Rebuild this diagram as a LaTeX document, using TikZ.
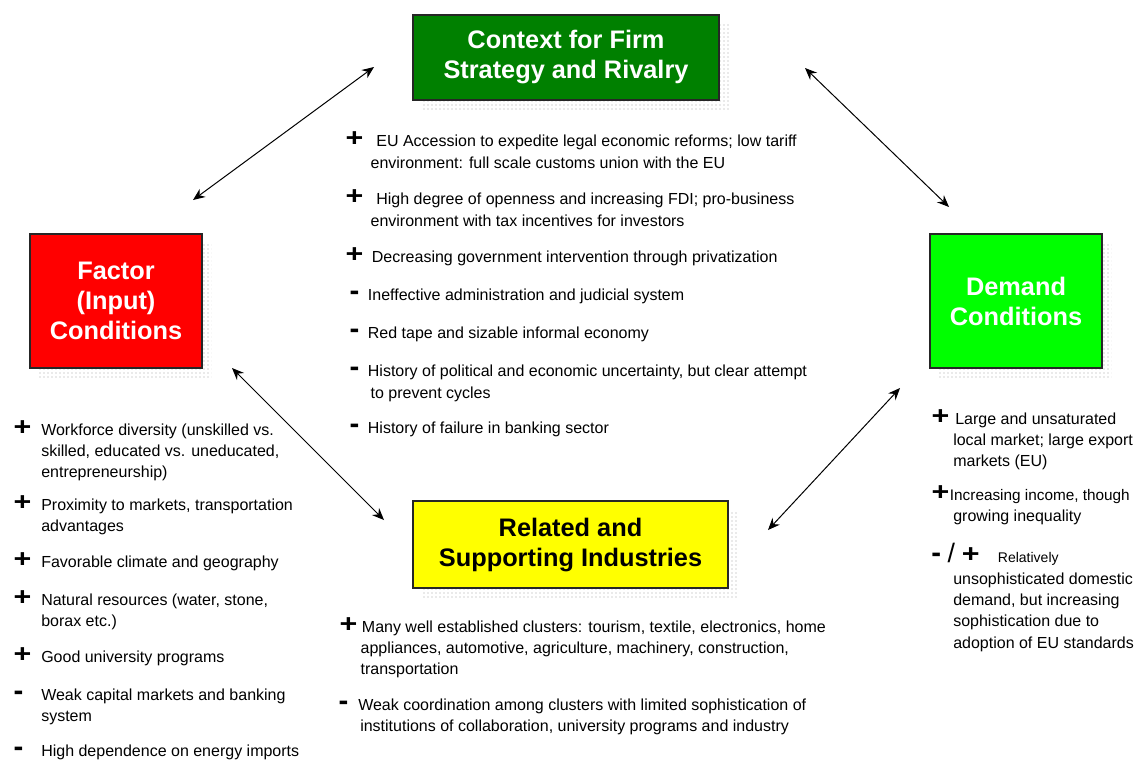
\documentclass[tikz,border=0pt]{standalone}
\usepackage{graphicx}
\usepackage{fontspec}
\setmainfont{Liberation Sans}
\usetikzlibrary{arrows.meta,patterns,backgrounds}

\definecolor{stratgreen}{RGB}{0,128,0}
\definecolor{demgreen}{RGB}{0,255,0}
\definecolor{facred}{RGB}{255,0,0}
\definecolor{relyellow}{RGB}{255,255,0}

\newcommand{\signfont}{\fontsize{19}{19}\selectfont\bfseries}
\newcommand{\tstrut}{\rule{0pt}{0.7\baselineskip}}
\newcommand{\pl}[1][20pt]{\makebox[#1][l]{\makebox[14pt][c]{\signfont\scalebox{1.2}[1]{+}}}}
\newcommand{\mi}[1][20pt]{\makebox[#1][l]{\makebox[14pt][c]{\fontsize{22}{22}\selectfont\bfseries -}}}
\newcommand{\ind}[1][20pt]{\hspace*{#1}}

\tikzset{
  forcebox/.style={draw=black!85, line width=1pt, align=center, inner sep=0pt,
    font=\fontsize{19}{22.5}\selectfont\bfseries},
  dotshadow/.style={pattern=dots, pattern color=gray!70},
  item/.style={anchor=north west, inner sep=0pt, align=left,
    font=\fontsize{12}{16.5}\selectfont},
  smallitem/.style={item, font=\fontsize{12}{16}\selectfont},
  link/.style={>={Stealth[length=9pt,width=7.5pt,inset=3pt]}, <->, line width=0.75pt}
}

\begin{document}
\begin{tikzpicture}[x=0.75pt,y=-0.75pt]
\useasboundingbox (0,0) rectangle (1137,761);

\node[forcebox, fill=stratgreen, text=white, minimum width=229.5pt, minimum height=63.75pt] (strat) at (566,57.5) {Context for Firm\\Strategy and Rivalry};
\node[forcebox, fill=facred, text=white, minimum width=129pt, minimum height=100.5pt] (factor) at (116,301) {Factor\\(Input)\\Conditions};
\node[forcebox, fill=demgreen, text=white, minimum width=129pt, minimum height=100.5pt] (demand) at (1016,301) {Demand\\Conditions};
\node[forcebox, fill=relyellow, text=black, minimum width=236.25pt, minimum height=65.25pt] (related) at (570.5,544.5) {Related and\\Supporting Industries};

\begin{scope}[on background layer]
\foreach \b in {strat,factor,demand,related}
  \fill[dotshadow] ([shift={(9,10)}]\b.south west) rectangle ([shift={(9,10)}]\b.north east);
\end{scope}

% arrows between the four corners
\coordinate (sf1) at (374,67);
\coordinate (sf2) at (193,200);
\coordinate (sd1) at (805,68);
\coordinate (sd2) at (949,207);
\coordinate (fr1) at (232,368);
\coordinate (fr2) at (384,520);
\coordinate (dr1) at (900,388);
\coordinate (dr2) at (768,530);
\draw[link] (sf1) -- (sf2);
\draw[link] (sd1) -- (sd2);
\draw[link] (fr1) -- (fr2);
\draw[link] (dr1) -- (dr2);

% strategy and rivalry
\node[item] (c1) at (345,131.3) {\tstrut\pl\ EU Accession to expedite legal economic reforms; low tariff\\\ind[19pt]environment: full scale customs union with the EU};
\node[item] (c2) at (345,188.6) {\tstrut\pl\ High degree of openness and increasing FDI; pro-business\\\ind[19pt]environment with tax incentives for investors};
\node[item] (c3) at (345,246.6) {\tstrut\pl Decreasing government intervention through privatization};
\node[item] (c4) at (345,284.6) {\tstrut\mi[17pt]Ineffective administration and judicial system};
\node[item] (c5) at (345,322.6) {\tstrut\mi[17pt]Red tape and sizable informal economy};
\node[item] (c6) at (345,360.6) {\tstrut\mi[17pt]History of political and economic uncertainty, but clear attempt\\\ind[19pt]to prevent cycles};
\node[item] (c7) at (345,417.6) {\tstrut\mi[17pt]History of failure in banking sector};

% factor conditions
\node[smallitem] (l1) at (13,420.1) {\tstrut\pl[21pt]Workforce diversity (unskilled vs.\\\ind[21pt]skilled, educated vs. uneducated,\\\ind[21pt]entrepreneurship)};
\node[smallitem] (l2) at (13,495.1) {\tstrut\pl[21pt]Proximity to markets, transportation\\\ind[21pt]advantages};
\node[smallitem] (l3) at (13,552.1) {\tstrut\pl[21pt]Favorable climate and geography};
\node[smallitem] (l4) at (13,590.1) {\tstrut\pl[21pt]Natural resources (water, stone,\\\ind[21pt]borax etc.)};
\node[smallitem] (l5) at (13,647.1) {\tstrut\pl[21pt]Good university programs};
\node[smallitem] (l6) at (9,685.1) {\tstrut\mi[24pt]Weak capital markets and banking\\\ind[24pt]system};
\node[smallitem] (l7) at (9,741) {\tstrut\mi[24pt]High dependence on energy imports};

% demand conditions
\node[smallitem] (r1) at (931,409.1) {\tstrut\pl[18pt]Large and unsaturated\\\ind[16.5pt]local market; large export\\\ind[16.5pt]markets (EU)};
\node[smallitem] (r2) at (931,485.1) {\tstrut\pl[14pt]{\fontsize{11.5}{16}\selectfont Increasing income, though}\\\ind[16.5pt]growing inequality};
\node[smallitem] (r3) at (931,543.1) {\tstrut\makebox[50pt][l]{{\fontsize{22}{22}\selectfont\bfseries -}\hspace{5pt}{\fontsize{20}{20}\selectfont /}\hspace{5pt}{\signfont\scalebox{1.2}[1]{+}}}{\fontsize{10.5}{16}\selectfont Relatively}\\\ind[16.5pt]unsophisticated domestic\\\ind[16.5pt]demand, but increasing\\\ind[16.5pt]sophistication due to\\\ind[16.5pt]adoption of EU standards};

% related and supporting industries
\node[smallitem] (b1) at (339,617.1) {\tstrut\pl[17pt]Many well established clusters: tourism, textile, electronics, home\\\ind[16pt]appliances, automotive, agriculture, machinery, construction,\\\ind[16pt]transportation};
\node[smallitem] (b2) at (334,695.1) {\tstrut\mi[18pt]Weak coordination among clusters with limited sophistication of\\\ind[19.5pt]institutions of collaboration, university programs and industry};
\end{tikzpicture}
\end{document}
